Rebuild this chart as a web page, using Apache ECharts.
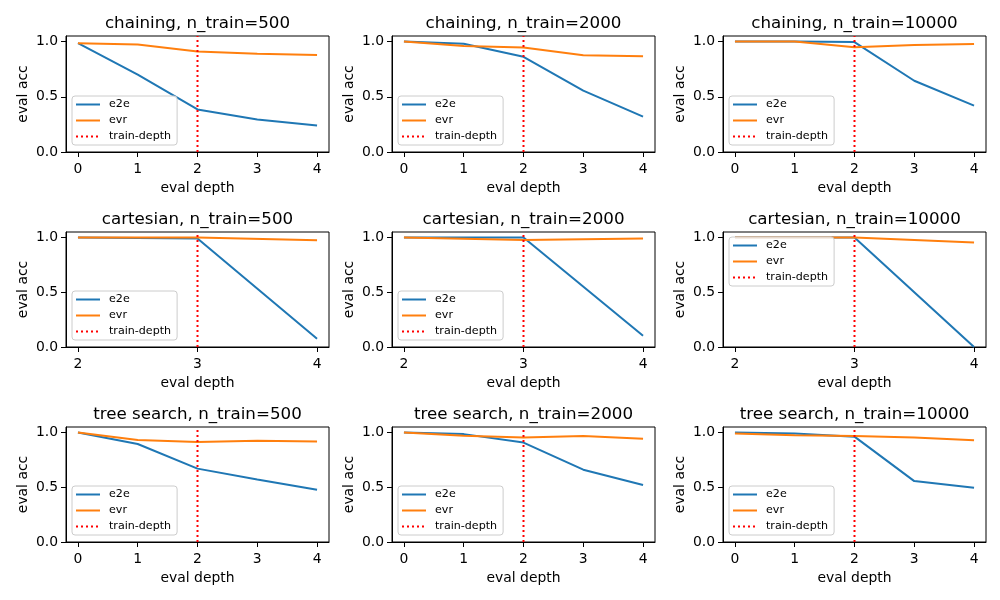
<!DOCTYPE html>
<html><head><meta charset="utf-8">
<script src="https://cdn.jsdelivr.net/npm/echarts@6/dist/echarts.min.js"></script>
<style>html,body{margin:0;padding:0;background:#fff}#c{width:1000px;height:600px}</style>
</head><body><div id="c"></div>
<script>
// ---- data ----
const depthsChaining = [0, 1, 2, 3, 4];
const depthsCartesian = [2, 3, 4];
const depthsTree = [0, 1, 2, 3, 4];
const nTrain = [500, 2000, 10000];
const tasks = ['chaining', 'cartesian', 'tree search'];
const trainDepth = [2, 3, 2];
const yTicks = [0, 0.5, 1.0];

const e2eChaining500 = [0.985, 0.70, 0.385, 0.295, 0.24];
const evrChaining500 = [0.985, 0.972, 0.91, 0.89, 0.879];
const e2eChaining2000 = [1.0, 0.98, 0.862, 0.555, 0.32];
const evrChaining2000 = [1.0, 0.96, 0.945, 0.875, 0.866];
const e2eChaining10000 = [1.0, 1.0, 0.995, 0.645, 0.42];
const evrChaining10000 = [1.0, 1.0, 0.948, 0.968, 0.978];

const e2eCartesian500 = [1.0, 0.99, 0.076];
const evrCartesian500 = [1.0, 1.0, 0.975];
const e2eCartesian2000 = [1.0, 1.0, 0.103];
const evrCartesian2000 = [1.0, 0.978, 0.99];
const e2eCartesian10000 = [1.0, 1.0, 0.0];
const evrCartesian10000 = [1.0, 1.0, 0.955];

const e2eTree500 = [1.0, 0.895, 0.67, 0.57, 0.477];
const evrTree500 = [1.0, 0.932, 0.913, 0.925, 0.918];
const e2eTree2000 = [1.0, 0.985, 0.908, 0.66, 0.52];
const evrTree2000 = [1.0, 0.97, 0.955, 0.968, 0.943];
const e2eTree10000 = [1.0, 0.99, 0.962, 0.556, 0.495];
const evrTree10000 = [0.99, 0.975, 0.968, 0.953, 0.93];

const panels = [
  {depths: depthsChaining, e2e: e2eChaining500, evr: evrChaining500},
  {depths: depthsChaining, e2e: e2eChaining2000, evr: evrChaining2000},
  {depths: depthsChaining, e2e: e2eChaining10000, evr: evrChaining10000},
  {depths: depthsCartesian, e2e: e2eCartesian500, evr: evrCartesian500},
  {depths: depthsCartesian, e2e: e2eCartesian2000, evr: evrCartesian2000},
  {depths: depthsCartesian, e2e: e2eCartesian10000, evr: evrCartesian10000, legendTop: true},
  {depths: depthsTree, e2e: e2eTree500, evr: evrTree500},
  {depths: depthsTree, e2e: e2eTree2000, evr: evrTree2000},
  {depths: depthsTree, e2e: e2eTree10000, evr: evrTree10000}
];

// ---- layout ----
const colLeft = [66, 392, 723], colW = 263;
const rowTop = [36, 232, 427], rowH = [116, 115, 115];
const yMax = 1.05;
const FONT = 'DejaVu Sans';
const dotPattern = [2, 3];

const grid = [], xAxis = [], yAxis = [], series = [], title = [], legend = [];
panels.forEach((p, i) => {
  const r = Math.floor(i / 3), c = i % 3;
  const gl = colLeft[c], gt = rowTop[r], gh = rowH[r];
  const lo = p.depths[0], hi = p.depths[p.depths.length - 1];
  const pad = (hi - lo) * 0.05;
  grid.push({left: gl, top: gt, width: colW, height: gh, show: true,
    borderColor: '#000', borderWidth: 1, backgroundColor: 'transparent'});
  title.push({text: tasks[r] + ', n_train=' + nTrain[c], left: gl + colW / 2, top: gt - 21,
    textAlign: 'center', padding: 0,
    textStyle: {fontFamily: FONT, fontSize: 16.7, fontWeight: 'normal', color: '#000'}});
  xAxis.push({type: 'value', gridIndex: i, min: lo - pad, max: hi + pad,
    name: 'eval depth', nameLocation: 'middle', nameGap: 29,
    nameTextStyle: {fontFamily: FONT, fontSize: 13.9, color: '#000'},
    axisLine: {show: true, onZero: false, lineStyle: {color: '#000', width: 1}},
    axisTick: {show: true, length: 5, customValues: p.depths, lineStyle: {color: '#000', width: 1}},
    axisLabel: {customValues: p.depths, margin: 10, fontFamily: FONT, fontSize: 13.9, color: '#000',
      formatter: v => String(Math.round(v))},
    splitLine: {show: false}});
  yAxis.push({type: 'value', gridIndex: i, min: 0, max: yMax,
    name: 'eval acc', nameLocation: 'middle', nameGap: 36,
    nameTextStyle: {fontFamily: FONT, fontSize: 13.9, color: '#000'},
    axisLine: {show: true, onZero: false, lineStyle: {color: '#000', width: 1}},
    axisTick: {show: true, length: 5, customValues: yTicks, lineStyle: {color: '#000', width: 1}},
    axisLabel: {customValues: yTicks, margin: 8, fontFamily: FONT, fontSize: 13.9, color: '#000',
      formatter: v => v.toFixed(1)},
    splitLine: {show: false}});
  series.push({name: 'e2e', type: 'line', xAxisIndex: i, yAxisIndex: i, symbol: 'none',
    data: p.depths.map((d, k) => [d, p.e2e[k]]),
    lineStyle: {color: '#1f77b4', width: 2}, itemStyle: {color: '#1f77b4'}, z: 2, animation: false});
  series.push({name: 'evr', type: 'line', xAxisIndex: i, yAxisIndex: i, symbol: 'none',
    data: p.depths.map((d, k) => [d, p.evr[k]]),
    lineStyle: {color: '#ff7f0e', width: 2}, itemStyle: {color: '#ff7f0e'}, z: 3, animation: false});
  const td = trainDepth[r];
  series.push({name: 'train-depth', type: 'line', xAxisIndex: i, yAxisIndex: i, symbol: 'none',
    data: [[td, 0], [td, yMax]],
    lineStyle: {color: '#ff0000', width: 2, type: dotPattern}, itemStyle: {color: '#ff0000'}, z: 4, animation: false});
  legend.push({data: ['e2e', 'evr', 'train-depth'], orient: 'vertical',
    left: gl + 6, top: p.legendTop ? gt + 5 : gt + gh - 56,
    itemWidth: 24, itemHeight: 11, itemGap: 5,
    padding: [3, 6, 3, 3], borderColor: '#cccccc', borderWidth: 1, borderRadius: 3,
    backgroundColor: 'rgba(255,255,255,0.8)', selectedMode: false,
    itemStyle: {color: 'rgba(0,0,0,0)', borderColor: 'rgba(0,0,0,0)', borderWidth: 0, opacity: 0},
    textStyle: {fontFamily: FONT, fontSize: 11.1, color: '#000', padding: [0, 0, 0, 4]}});
});

const chart = echarts.init(document.getElementById('c'), null, {renderer: 'canvas'});
chart.setOption({animation: false, backgroundColor: '#fff', textStyle: {fontFamily: FONT},
  title, legend, grid, xAxis, yAxis, series});
</script></body></html>
